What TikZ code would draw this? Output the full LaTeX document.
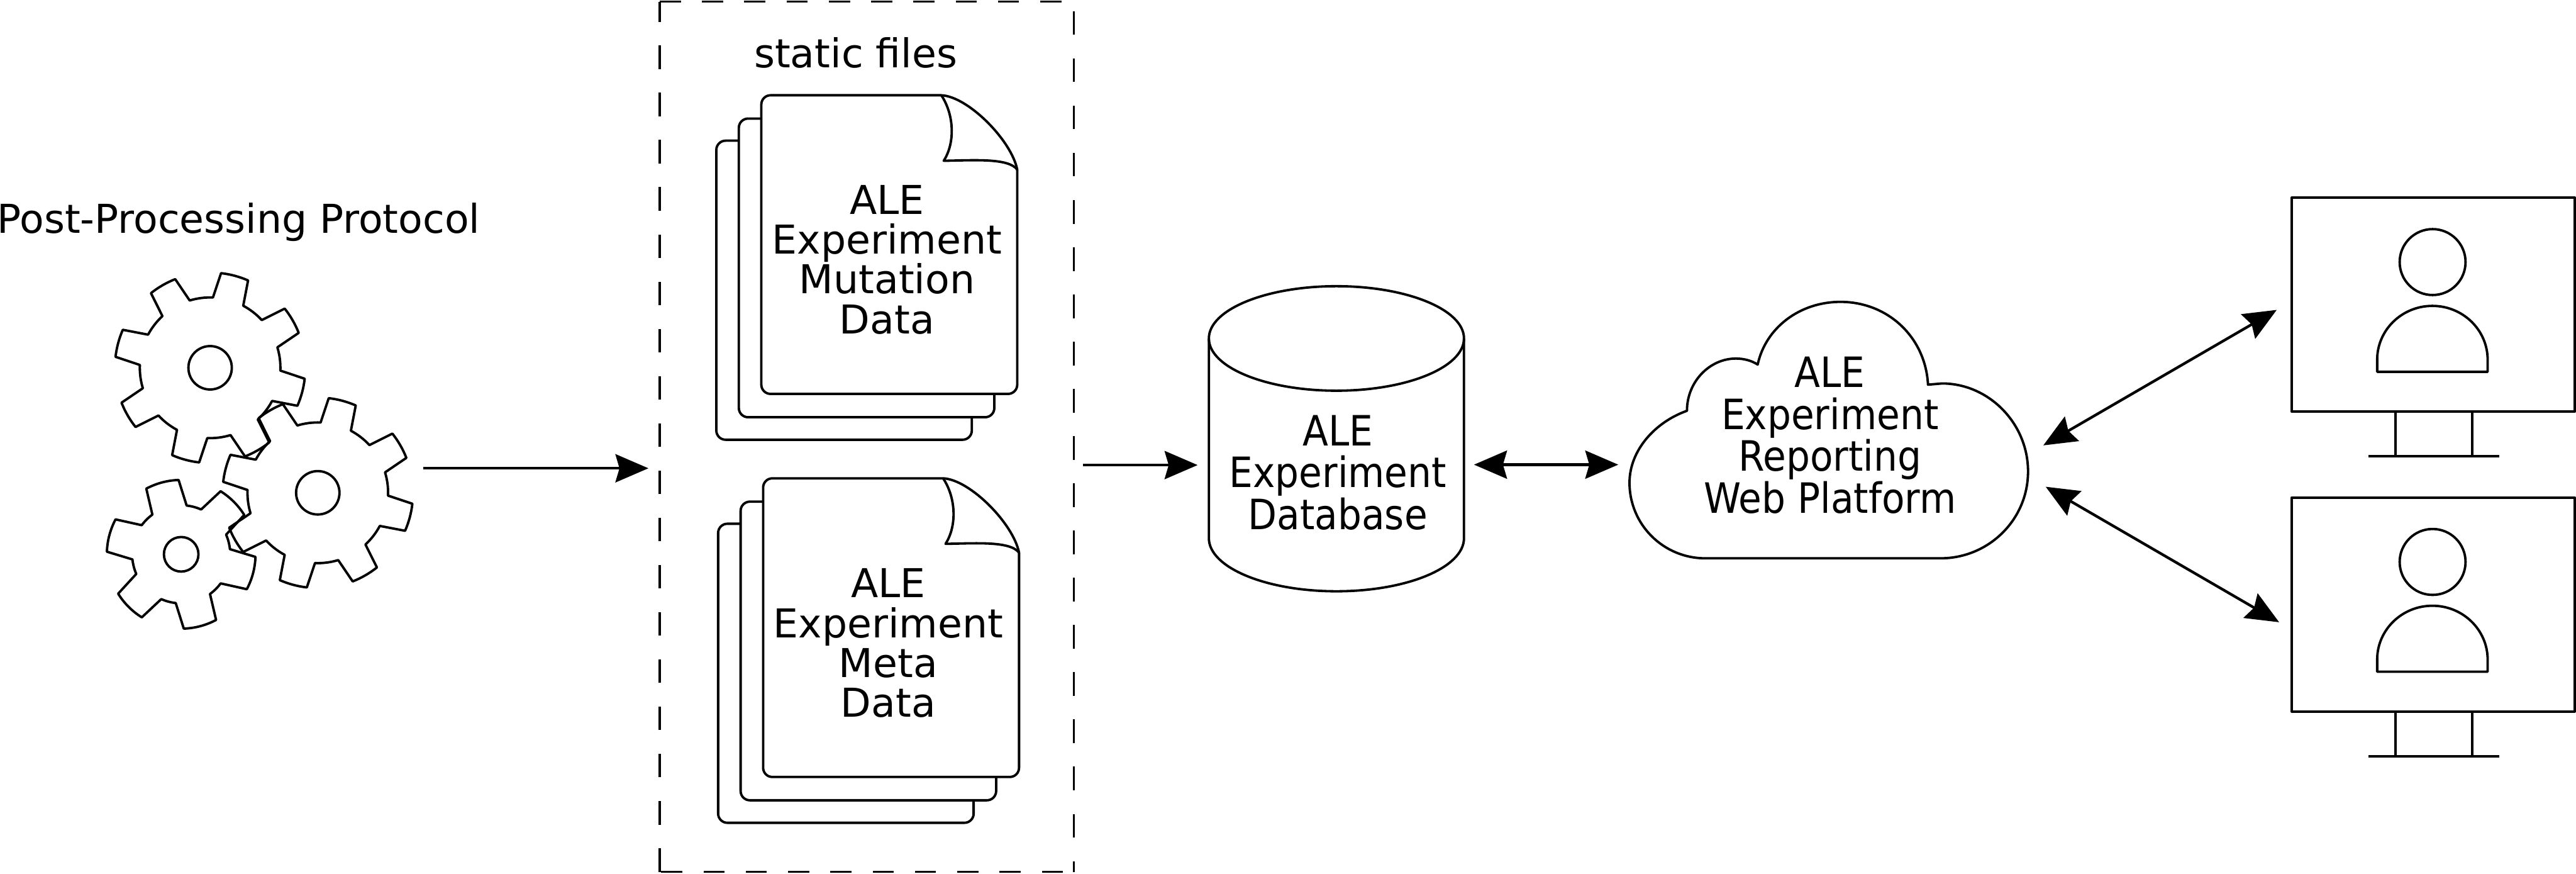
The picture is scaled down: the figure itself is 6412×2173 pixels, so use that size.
\documentclass[tikz,border=0pt]{standalone}
\usepackage{fontspec}
\setmainfont{DejaVu Sans}
\usetikzlibrary{arrows.meta}

\tikzset{
    shapeline/.style={line width=1.7pt, line join=round},
    dashhoriz/.style={line width=1.7pt, dash pattern=on 0.526cm off 0.526cm},
    dashvert/.style={line width=1.7pt, dash pattern=on 0.587cm off 0.587cm},
    arrowline/.style={line width=1.9pt},
    labeltext/.style={inner sep=0pt, align=center, font=\fontsize{28.15}{28.2}\selectfont},
    squeezedtext/.style={labeltext, transform shape, xscale=0.945, yscale=1.05},
}

\begin{document}
\begin{tikzpicture}[
    >={Stealth[length=0.82cm, width=0.7cm, inset=0.1cm]},
    x=0.01cm, y=-0.01cm,
]
\useasboundingbox (0, 0) rectangle (6412, 2173);

% Big gears
\foreach \cx/\cy in {523/915, 791/1226} {
    \begin{scope}[shift={(\cx, \cy)}]
        \draw[shapeline] (-87.7:175)
            \foreach \k in {0, 45, ..., 315} {
                -- ({\k-83.4}:237) arc[start angle=\k-83.4, end angle=\k-66.5, radius=237]
                -- ({\k-61.9}:175) arc[start angle=\k-61.9, end angle=\k-42.7, radius=175]
            } -- cycle;
        \draw[shapeline] (0, 0) circle[radius=54];
    \end{scope}
}

% Small gear
\begin{scope}[shift={(451, 1379)}]
    \draw[shapeline] (-126:122)
        \foreach \k in {0, 60, ..., 300} {
            -- ({\k-118}:185) arc[start angle=\k-118, end angle=\k-92, radius=185]
            -- ({\k-83.6}:122) arc[start angle=\k-83.6, end angle=\k-66, radius=122]
        } -- cycle;
    \draw[shapeline] (0, 0) circle[radius=43];
\end{scope}

\node[labeltext] (protocol) at (594, 552) {Post-Processing Protocol};

% Dashed box, side by side
\coordinate (boxTL) at (1642, 4);
\coordinate (boxTR) at (2673, 4);
\coordinate (boxBR) at (2673, 2169);
\coordinate (boxBL) at (1642, 2169);
\draw[dashhoriz] (boxTL) -- (boxTR);
\draw[dashvert, dash phase=0.935cm] (boxTR) -- (boxBR);
\draw[dashhoriz, dash phase=0.78cm] (boxBR) -- (boxBL);
\draw[dashvert] (boxBL) -- (boxTL);
\node[labeltext] (static) at (2130, 131) {static files};

% Stacks of sheets, only what shows behind the front sheet
\foreach \sx/\sy in {0/0, 4.5/953} {
    \begin{scope}[shift={(\sx, \sy)}]
        \draw[shapeline, rounded corners=0.23cm] (1839, 350) -- (1783, 350) -- (1783, 1094)
            -- (2419, 1094) -- (2419, 1038);
        \draw[shapeline, rounded corners=0.23cm] (1895, 295) -- (1839, 295) -- (1839, 1038)
            -- (2475, 1038) -- (2475, 980);
        \draw[shapeline] (2343, 237) -- (1918, 237)
            arc[start angle=270, end angle=180, radius=23] -- (1895, 957)
            arc[start angle=180, end angle=90, radius=23] -- (2509, 980)
            arc[start angle=90, end angle=0, radius=23] -- (2532, 422)
            .. controls (2518, 350) and (2410, 240) .. (2343, 237) -- cycle;
        \draw[shapeline] (2343, 237) .. controls (2375, 285) and (2378, 355) .. (2349, 400)
            .. controls (2420, 399) and (2510, 392) .. (2532, 422);
    \end{scope}
}
\node[labeltext] (mutation) at (2208, 646) {ALE\\Experiment\\Mutation\\Data};
\node[labeltext] (meta) at (2211, 1600) {ALE\\Experiment\\Meta\\Data};

% Database
\draw[shapeline] (3009, 842) -- (3009, 1339)
    arc[start angle=180, end angle=0, x radius=317.5, y radius=132]
    -- (3644, 842);
\draw[shapeline] (3326.5, 842) ellipse[x radius=317.5, y radius=130];
\node[squeezedtext] (database) at (3330, 1176) {ALE\\Experiment\\Database};

% Cloud
\draw[shapeline] (4245, 1389) -- (4830, 1389)
    .. controls (4950, 1389) and (5048, 1293) .. (5048, 1173)
    .. controls (5048, 1053) and (4950, 954) .. (4834, 954)
    -- (4799, 957)
    .. controls (4793, 840) and (4700, 751) .. (4581, 751)
    .. controls (4480, 751) and (4395, 815) .. (4375, 907)
    .. controls (4360, 897) and (4340, 892) .. (4321, 892)
    .. controls (4255, 892) and (4199, 950) .. (4199, 1022)
    .. controls (4120, 1050) and (4056, 1120) .. (4056, 1201)
    .. controls (4056, 1305) and (4140, 1389) .. (4245, 1389) -- cycle;
\node[squeezedtext] (platform) at (4555, 1083) {ALE\\Experiment\\Reporting\\Web Platform};

% Monitors with a person
\foreach \dy in {0, 746} {
    \begin{scope}[shift={(0, \dy)}]
        \draw[shapeline] (5704, 492) rectangle (6409, 1024);
        \draw[shapeline] (5962, 1024) rectangle (6153, 1135);
        \draw[shapeline] (5895, 1135) -- (6221, 1135);
        \draw[shapeline] (6055, 652) circle[radius=82];
        \draw[shapeline] (5917, 925) -- (5917, 895)
            arc[start angle=180, end angle=360, x radius=137.5, y radius=134]
            -- (6192, 925) -- cycle;
    \end{scope}
}

% Arrows
\coordinate (gearsEnd) at (1054, 1165);
\coordinate (filesIn) at (1614, 1165);
\coordinate (filesOut) at (2696, 1157);
\coordinate (dbIn) at (2981, 1157);
\coordinate (dbOut) at (3669, 1156);
\coordinate (cloudIn) at (4028, 1156);
\coordinate (cloudUp) at (5086, 1108);
\coordinate (monitorUp) at (5667, 771);
\coordinate (cloudDown) at (5092, 1211);
\coordinate (monitorDown) at (5673, 1548);
\draw[->, arrowline] (gearsEnd) -- (filesIn);
\draw[->, arrowline] (filesOut) -- (dbIn);
\draw[<->, arrowline] (dbOut) -- (cloudIn);
\draw[<->, arrowline] (cloudUp) -- (monitorUp);
\draw[<->, arrowline] (cloudDown) -- (monitorDown);
\end{tikzpicture}
\end{document}
